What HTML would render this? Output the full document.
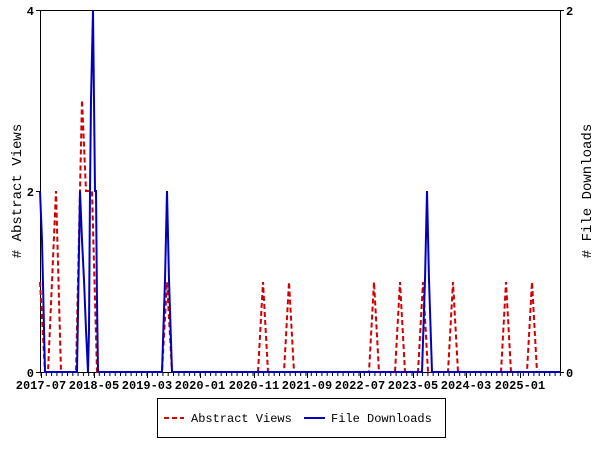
<!DOCTYPE html>
<html><head><style>body{margin:0;background:#fff}</style></head><body>
<svg width="600" height="450" xmlns="http://www.w3.org/2000/svg" font-family="Liberation Mono, monospace">
<defs>
<pattern id="tk" patternUnits="userSpaceOnUse" x="40.5" y="372" width="5.3" height="10">
<line x1="0.5" y1="0" x2="0.5" y2="10" stroke="#000" stroke-width="1"/>
</pattern>
</defs>
<rect width="600" height="450" fill="#fff"/>
<rect x="40" y="372" width="521" height="4" fill="url(#tk)"/>
<g stroke="#000" stroke-width="1" fill="none">
<line x1="40.5" y1="10" x2="40.5" y2="372"/>
<line x1="560.5" y1="10" x2="560.5" y2="372"/>
<line x1="40" y1="372.5" x2="560" y2="372.5"/>
<line x1="40" y1="10.5" x2="560" y2="10.5"/>
<line x1="36" y1="10.5" x2="40" y2="10.5"/><line x1="36" y1="191.5" x2="40" y2="191.5"/><line x1="36" y1="372.5" x2="40" y2="372.5"/>
<line x1="560" y1="10.5" x2="564" y2="10.5"/><line x1="560" y1="372.5" x2="564" y2="372.5"/>
<line x1="41.5" y1="372" x2="41.5" y2="378"/><line x1="94.5" y1="372" x2="94.5" y2="378"/>
<line x1="147.5" y1="372" x2="147.5" y2="378"/><line x1="200.5" y1="372" x2="200.5" y2="378"/>
<line x1="254.5" y1="372" x2="254.5" y2="378"/><line x1="307.5" y1="372" x2="307.5" y2="378"/>
<line x1="360.5" y1="372" x2="360.5" y2="378"/><line x1="413.5" y1="372" x2="413.5" y2="378"/>
<line x1="466.5" y1="372" x2="466.5" y2="378"/><line x1="520.5" y1="372" x2="520.5" y2="378"/>
</g>
<g font-size="12" font-weight="bold" fill="#000">
<text x="34" y="15" text-anchor="end">4</text>
<text x="34" y="196" text-anchor="end">2</text>
<text x="34" y="377" text-anchor="end">0</text>
<text x="566" y="15">2</text>
<text x="566" y="377">0</text>
</g>
<g font-size="12" font-weight="bold" fill="#000" text-anchor="middle">
<text x="41" y="389">2017-07</text><text x="94" y="389">2018-05</text><text x="147" y="389">2019-03</text>
<text x="200" y="389">2020-01</text><text x="254" y="389">2020-11</text><text x="307" y="389">2021-09</text>
<text x="360" y="389">2022-07</text><text x="413" y="389">2023-05</text><text x="466" y="389">2024-03</text>
<text x="520" y="389">2025-01</text>
</g>
<text transform="translate(21,191) rotate(-90)" font-size="14" text-anchor="middle">#  Abstract Views</text>
<text transform="translate(591,191) rotate(-90)" font-size="14" text-anchor="middle"># File Downloads</text>
<polyline fill="none" stroke="#d00000" stroke-width="2" stroke-dasharray="5,3" points="40,282 45,372 48,372 56,191 61,372 76,372 80,191 82,100 86,191 90,191 92,191 97,372 162,372 167,282 172,372 258,372 263,282 268,372 284,372 289,282 294,372 369,372 374,282 379,372 395,372 400,282 405,372 418,372 423,282 428,372 448,372 453,282 458,372 501,372 506,282 511,372 527,372 532,282 537,372"/>
<polyline fill="none" stroke="#0000c0" stroke-width="2" points="40,191 42,240 45,372 77,372 80,191 82,240 84,280 86,330 88,372 89,330 90,191 91,100 93,10 94,100 95,191 96,191 97,300 98,372 162,372 165,280 167,191 169,280 172,372 422,372 425,280 427,191 429,280 432,372 560,372"/>
<rect x="157.5" y="398.5" width="288" height="39" fill="#fff" stroke="#000"/>
<line x1="164" y1="418" x2="184" y2="418" stroke="#d00000" stroke-width="2" stroke-dasharray="5,3"/>
<text x="191" y="422" font-size="12">Abstract Views</text>
<line x1="304" y1="418" x2="325" y2="418" stroke="#0000c0" stroke-width="2"/>
<text x="331" y="422" font-size="12">File Downloads</text>
</svg>
</body></html>
